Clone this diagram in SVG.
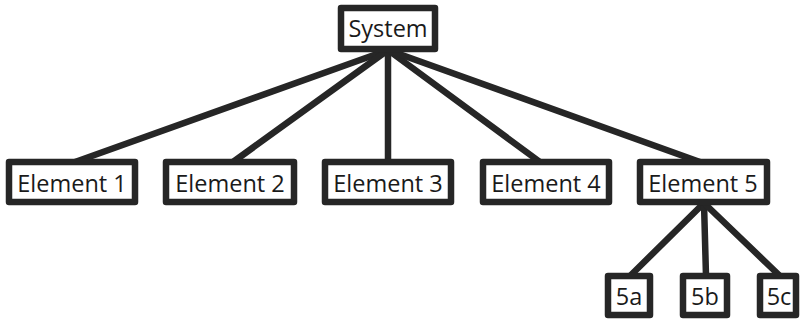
<svg xmlns="http://www.w3.org/2000/svg" width="800" height="322" viewBox="0 0 800 322">
<style>
.box{fill:#fff;stroke:#262626;stroke-width:6.5;stroke-linejoin:round}
.lbl{font-family:"Open Sans","Noto Sans",sans-serif;font-size:23.5px;fill:#1a1a1a;text-anchor:middle}
.conn line{stroke:#262626;stroke-width:6.5;stroke-linecap:round}
</style>
<rect width="800" height="322" fill="#fff"/>
<g class="conn" id="connectors">
<line x1="388" y1="50" x2="75" y2="162"/>
<line x1="388" y1="50" x2="233" y2="162"/>
<line x1="388" y1="50" x2="388" y2="162"/>
<line x1="388" y1="50" x2="540" y2="162"/>
<line x1="388" y1="50" x2="700" y2="162"/>
<line x1="704" y1="203" x2="630" y2="276"/>
<line x1="704" y1="203" x2="706" y2="276"/>
<line x1="704" y1="203" x2="780" y2="276"/>
</g>
<g id="system"><rect class="box" x="341" y="8" width="94" height="41"/><text class="lbl" x="388" y="37">System</text></g>
<g id="element1"><rect class="box" x="9" y="162" width="126" height="40"/><text class="lbl" x="72" y="192">Element 1</text></g>
<g id="element2"><rect class="box" x="166" y="162" width="128" height="40"/><text class="lbl" x="230" y="192">Element 2</text></g>
<g id="element3"><rect class="box" x="325" y="162" width="126" height="40"/><text class="lbl" x="388" y="192">Element 3</text></g>
<g id="element4"><rect class="box" x="483" y="162" width="126" height="40"/><text class="lbl" x="546" y="192">Element 4</text></g>
<g id="element5"><rect class="box" x="640" y="162" width="127" height="40"/><text class="lbl" x="703" y="192">Element 5</text></g>
<g id="n5a"><rect class="box" x="608" y="276" width="42" height="39"/><text class="lbl" x="629" y="305">5a</text></g>
<g id="n5b"><rect class="box" x="683" y="276" width="44" height="39"/><text class="lbl" x="705" y="305">5b</text></g>
<g id="n5c"><rect class="box" x="760" y="276" width="36" height="39"/><text class="lbl" x="779" y="305">5c</text></g>
</svg>
